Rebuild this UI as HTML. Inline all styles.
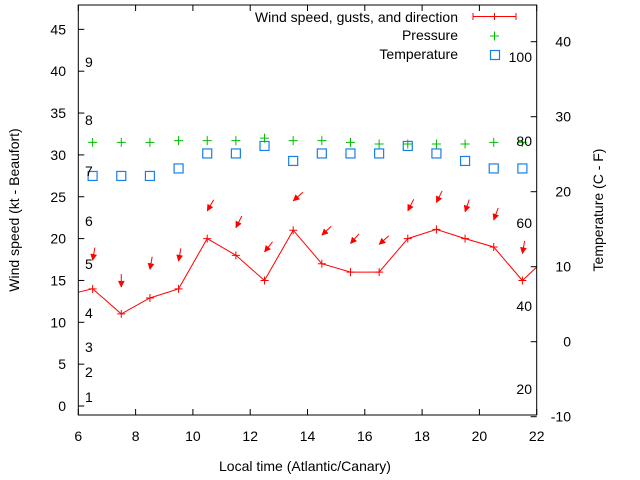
<!DOCTYPE html>
<html><head><meta charset="utf-8"><style>
body{margin:0;background:#fff}
svg{display:block;font-family:"Liberation Sans",sans-serif}
</style></head><body>
<svg id="chart" width="640" height="480" viewBox="0 0 640 480" xmlns="http://www.w3.org/2000/svg">
<rect width="640" height="480" fill="#fff"/>
<g id="marks"></g>
<g id="axes"></g>
<text transform="translate(19,210) rotate(-90)" text-anchor="middle" font-size="14">Wind speed (kt - Beaufort)</text>
<text transform="translate(603,210) rotate(-90)" text-anchor="middle" font-size="14">Temperature (C - F)</text>
<text x="305" y="471" text-anchor="middle" font-size="14">Local time (Atlantic/Canary)</text>
<g font-size="14" text-anchor="end">
<text x="458" y="22">Wind speed, gusts, and direction</text>
<text x="458" y="40">Pressure</text>
<text x="458" y="59">Temperature</text>
<g stroke="#f00" stroke-width="1"><line x1="473" y1="16.5" x2="516" y2="16.5"/><line x1="473" y1="13" x2="473" y2="20"/><line x1="516" y1="13" x2="516" y2="20"/><line x1="494.5" y1="13" x2="494.5" y2="20"/></g>
<g stroke="#0b0" stroke-width="1"><line x1="490" y1="36" x2="499" y2="36"/><line x1="494.5" y1="31.5" x2="494.5" y2="40.5"/></g>
<rect x="490.5" y="50.5" width="9" height="9" fill="none" stroke="#1a7fe8" stroke-width="1.2"/>
</g>
</svg>
<script>
const times = [5.5,6.5,7.5,8.5,9.5,10.5,11.5,12.5,13.5,14.5,15.5,16.5,17.5,18.5,19.5,20.5,21.5,22.5];
const windSpeed = [13.2,14,11,12.9,14,20,18,15,21,17,16,16,20,21.1,20,19,15,18.2];
const obsTimes = [6.5,7.5,8.5,9.5,10.5,11.5,12.5,13.5,14.5,15.5,16.5,17.5,18.5,19.5,20.5,21.5];
const gusts = [17.4,14.2,16.3,17.3,23.3,21.3,18.4,24.5,20.4,19.4,19.3,23.3,24.3,23.2,22.2,18.2];
const windDir = [10,0,10,10,30,27,38,48,46,41,48,27,26,19,20,10];
const pressureScaled = [31.5,31.5,31.5,31.7,31.7,31.7,32.0,31.7,31.7,31.5,31.3,31.3,31.3,31.3,31.5,31.5];
const temperatureC = [22.1,22.1,22.1,23.1,25.1,25.1,26.1,24.1,25.1,25.1,25.1,26.1,25.1,24.1,23.1,23.1];
const xTicks = [6,8,10,12,14,16,18,20,22];
const yTicks = [0,5,10,15,20,25,30,35,40,45];
const y2Ticks = [-10,0,10,20,30,40];
const beaufortLabels = [[1,397],[2,372],[3,347],[4,313],[5,264],[6,221],[7,171],[8,120],[9,62]];
const fahrenheitLabels = [[20,389],[40,306],[60,223],[80,141],[100,57]];

const L=78.3,R=536.7,T=5,B=415;
const x=t=>L+(t-6)*(R-L)/16;
const y=v=>406-v*8.37;
const y2=v=>341.7-v*7.5;
const NS="http://www.w3.org/2000/svg";
const marks=document.getElementById('marks'), axes=document.getElementById('axes');
function mk(tag,attrs,parent){const e=document.createElementNS(NS,tag);for(const k in attrs)e.setAttribute(k,attrs[k]);parent.appendChild(e);return e;}

// clip
const defs=mk('defs',{},marks);
const cp=mk('clipPath',{id:'pc'},defs);mk('rect',{x:L,y:T,width:R-L,height:B-T},cp);
const g=mk('g',{'clip-path':'url(#pc)'},marks);

// wind line
const pts=times.map((t,i)=>x(t).toFixed(1)+','+y(windSpeed[i]).toFixed(1)).join(' ');
const line=mk('polyline',{points:pts,fill:'none',stroke:'#f00','stroke-width':1},g);


times.forEach((t,i)=>{
  const px=x(t),py=y(windSpeed[i]);
  const p=mk('path',{d:`M${px-4},${py}H${px+4}M${px},${py-4}V${py+4}`,stroke:'#f00','stroke-width':1},g);
  
  
});
// gust arrows
obsTimes.forEach((t,i)=>{
  const tx=x(t),ty=y(gusts[i]);const a=windDir[i]*Math.PI/180;const len=13;
  const ux=Math.sin(a),uy=-Math.cos(a);
  const sx=tx+ux*len,sy=ty+uy*len;
  const ar=mk('g',{},g);
  
  
  mk('line',{x1:sx,y1:sy,x2:tx,y2:ty,stroke:'#f00','stroke-width':1},ar);
  const hl=6,hw=3;const bx=tx+ux*hl,by=ty+uy*hl;const nx=-uy,ny=ux;
  mk('polygon',{points:`${tx},${ty} ${bx+nx*hw},${by+ny*hw} ${bx-nx*hw},${by-ny*hw}`,fill:'#f00',stroke:'#f00','stroke-width':0.5},ar);
});
// pressure
obsTimes.forEach((t,i)=>{
  const px=x(t),py=y(pressureScaled[i]);
  const p=mk('path',{d:`M${px-4.5},${py}H${px+4.5}M${px},${py-4.5}V${py+4.5}`,stroke:'#0b0','stroke-width':1},g);
  
  
});
// temperature
obsTimes.forEach((t,i)=>{
  const px=x(t),py=y2(temperatureC[i]);
  const r=mk('rect',{x:px-4.5,y:py-4.5,width:9,height:9,fill:'none',stroke:'#1a7fe8','stroke-width':1.2},g);
  
  
});
// inner labels
beaufortLabels.forEach(([v,py])=>{const e=mk('text',{x:85,y:py+5,'font-size':14},marks);e.textContent=v;
  });
fahrenheitLabels.forEach(([v,py])=>{const e=mk('text',{x:532,y:py+5,'font-size':14,'text-anchor':'end'},marks);e.textContent=v;
  });

// frame
const fr=mk('rect',{x:L,y:T,width:R-L,height:B-T,fill:'none',stroke:'#000','stroke-width':1},axes);

xTicks.forEach(t=>{const px=x(t);
  mk('line',{x1:px,y1:B,x2:px,y2:B-6,stroke:'#000'},axes);
  mk('line',{x1:px,y1:T,x2:px,y2:T+6,stroke:'#000'},axes);
  const e=mk('text',{x:px,y:441,'font-size':14,'text-anchor':'middle'},axes);e.textContent=t;
  });
yTicks.forEach(v=>{const py=y(v);
  mk('line',{x1:L,y1:py,x2:L+6,y2:py,stroke:'#000'},axes);
  const e=mk('text',{x:66,y:py+5,'font-size':14,'text-anchor':'end'},axes);e.textContent=v;
  });
y2Ticks.forEach(v=>{const py=y2(v);
  mk('line',{x1:R,y1:py,x2:R-6,y2:py,stroke:'#000'},axes);
  const e=mk('text',{x:571,y:py+5,'font-size':14,'text-anchor':'end'},axes);e.textContent=v;
  });
</script>
</body></html>
